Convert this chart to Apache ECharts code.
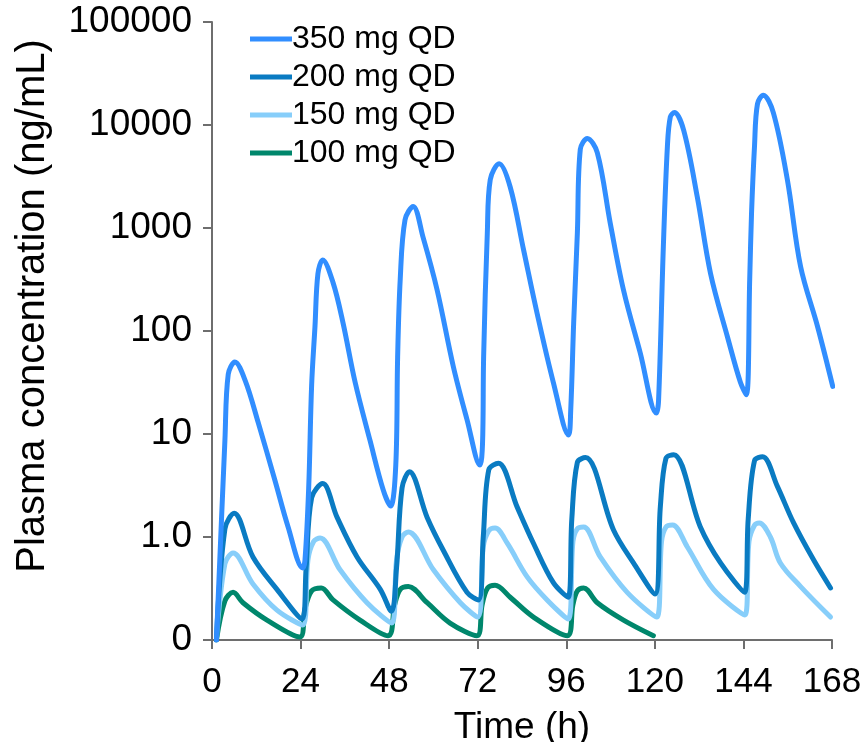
<!DOCTYPE html>
<html>
<head>
<meta charset="utf-8">
<script src="https://cdn.jsdelivr.net/npm/echarts@6/dist/echarts.min.js"></script>
<style>
html,body{margin:0;padding:0;background:#fff;}
#chart{width:864px;height:742px;}
</style>
</head>
<body>
<div id="chart"></div>
<script>
// Tick labels
var xTicks = [0, 24, 48, 72, 96, 120, 144, 168];
var yTickLabels = {0.1: '0', 1: '1.0', 10: '10', 100: '100', 1000: '1000', 10000: '10000', 100000: '100000'};

var seriesNames = ['350 mg QD', '200 mg QD', '150 mg QD', '100 mg QD'];

// 350 mg QD: time (h) and concentration (ng/mL)
var t350 = [1.2, 3.5, 4.4, 6.2, 9, 12.5, 17.1, 20.6, 24.6,
  25.2, 26.2, 27.0, 27.9, 28.7, 30.0, 32.8, 35.5, 38.8, 42.8, 46.4, 48.4,
  49.8, 50.3, 51.0, 52.3, 54.5, 57.2, 61, 65.4, 69.1, 72.6,
  73.3, 73.6, 74.6, 75.4, 77.8, 80.8, 84.4, 88.1, 92.5, 96.6,
  97.2, 98.0, 99.0, 99.8, 101.7, 104.4, 107.9, 111.5, 116, 120.4,
  121.0, 122.3, 123.4, 124.2, 125.3, 127.8, 131.5, 135.1, 139.7, 143.2, 144.8,
  145.7, 146.2, 147.0, 147.8, 149.4, 152.1, 155.9, 159.5, 164.1, 168.2];
var c350 = [0.1, 8.7, 38, 50, 33, 13, 3.5, 1.26, 0.5,
  0.6, 3, 30, 110, 360, 490, 295, 120, 31.6, 8.7, 2.86, 2.0,
  5, 56, 316, 1200, 1620, 810, 250, 45, 13.8, 5.0,
  8, 56, 890, 2950, 4200, 2500, 620, 148, 31.6, 9.8,
  17, 120, 890, 5800, 7400, 5400, 1120, 250, 62, 16,
  21, 660, 6200, 12000, 13200, 8900, 2000, 360, 87, 31.6, 24,
  316, 1400, 6200, 16000, 19500, 13200, 2950, 420, 110, 29];

// 200 mg QD
var t200 = [1.2, 3.5, 6.0, 11.1, 17.6, 24.4,
  25.5, 27.0, 30.0, 33.9, 39.3, 45.6, 48.6,
  50.0, 51.5, 53.5, 58.3, 62.7, 69.1, 72.2,
  73.5, 75.0, 77.6, 82.7, 87.1, 92.5, 96.5,
  97.5, 99.0, 101.2, 108.8, 114.2, 120.0,
  121.5, 123.0, 125.1, 132.3, 137.8, 144.3,
  145.3, 147.0, 149.2, 153.2, 157.6, 163.0, 167.6];
var c200 = [0.1, 1.2, 1.7, 0.64, 0.31, 0.16,
  0.5, 2.4, 3.3, 1.55, 0.64, 0.31, 0.19,
  0.5, 3.0, 4.3, 1.55, 0.74, 0.29, 0.245,
  1.0, 4.5, 5.2, 1.95, 0.87, 0.36, 0.26,
  1.5, 5.3, 5.9, 1.17, 0.56, 0.28,
  2.0, 5.8, 6.3, 1.26, 0.56, 0.29,
  1.5, 5.5, 6.0, 3.1, 1.37, 0.6, 0.32];

// 150 mg QD
var t150 = [1.2, 3.5, 5.7, 11.1, 17.6, 24.6,
  26.0, 27.5, 29.3, 34.7, 42.0, 48.7,
  50.0, 51.5, 53.2, 60.0, 67.3, 72.0,
  73.5, 75.0, 76.7, 80.0, 85.4, 90.8, 96.5,
  97.8, 99.0, 100.7, 105.2, 112.5, 120.5,
  121.8, 123.0, 124.8, 128.8, 135.9, 144.4,
  145.5, 147.0, 148.3, 151.3, 154.0, 159.5, 167.6];
var c150 = [0.1, 0.55, 0.7, 0.35, 0.195, 0.14,
  0.6, 0.9, 0.98, 0.48, 0.23, 0.146,
  0.6, 1.0, 1.12, 0.48, 0.23, 0.167,
  0.8, 1.15, 1.22, 0.87, 0.41, 0.245, 0.16,
  0.9, 1.2, 1.25, 0.64, 0.29, 0.167,
  0.9, 1.25, 1.31, 0.8, 0.31, 0.175,
  0.9, 1.3, 1.37, 1.0, 0.56, 0.33, 0.167];

// 100 mg QD
var t100 = [1.2, 3.5, 5.7, 8.4, 14.9, 23.8,
  25.2, 27.0, 29.6, 32.8, 40.1, 47.7,
  49.5, 51.0, 53.2, 58.3, 64.5, 71.8,
  73.2, 74.7, 76.7, 80.8, 87.1, 96.3,
  97.8, 99.0, 100.7, 104.4, 111.5, 119.6];
var c100 = [0.1, 0.24, 0.29, 0.23, 0.156, 0.107,
  0.2, 0.3, 0.32, 0.245, 0.156, 0.11,
  0.22, 0.31, 0.33, 0.23, 0.146, 0.11,
  0.22, 0.32, 0.34, 0.26, 0.167, 0.11,
  0.22, 0.3, 0.32, 0.23, 0.156, 0.11];

var colors = ['#318eff', '#0a7bc2', '#87cefa', '#00876c'];

function zip(t, c) { return t.map(function (v, i) { return [v, c[i]]; }); }
var allData = [zip(t350, c350), zip(t200, c200), zip(t150, c150), zip(t100, c100)];

var FONT = '"Liberation Sans", Arial, sans-serif';
var axisColor = '#6e6e6e';

var chart = echarts.init(document.getElementById('chart'), null, {renderer: 'canvas'});
chart.setOption({
  backgroundColor: '#ffffff',
  animation: false,
  color: colors,
  grid: {left: 212, right: 32, top: 22, bottom: 102, containLabel: false, outerBoundsMode: 'none'},
  legend: {
    orient: 'vertical',
    left: 250,
    top: 23,
    padding: 0,
    itemWidth: 42,
    itemHeight: 5,
    itemGap: 6,
    icon: 'rect',
    data: seriesNames,
    textStyle: {fontFamily: FONT, fontSize: 32, color: '#000', padding: [0, 0, 0, -5]}
  },
  graphic: [{
    type: 'text',
    x: 33,
    y: 306,
    rotation: Math.PI / 2,
    style: {
      text: 'Plasma concentration (ng/mL)',
      font: '40px "Liberation Sans", Arial, sans-serif',
      fill: '#000',
      textAlign: 'center',
      textVerticalAlign: 'middle'
    }
  }],
  xAxis: {
    type: 'value',
    min: 0, max: 168, interval: 24,
    name: 'Time (h)',
    nameLocation: 'middle',
    nameGap: 69,
    nameTextStyle: {fontFamily: FONT, fontSize: 37, color: '#000'},
    axisLine: {show: true, lineStyle: {color: axisColor, width: 2}},
    axisTick: {show: true, length: 9, lineStyle: {color: axisColor, width: 2}},
    axisLabel: {fontFamily: FONT, fontSize: 35, color: '#000', margin: 25,
      formatter: function (v) { return xTicks.indexOf(v) >= 0 ? String(v) : ''; }},
    splitLine: {show: false}
  },
  yAxis: {
    type: 'log',
    logBase: 10,
    min: 0.1, max: 100000,
    axisLine: {show: true, lineStyle: {color: axisColor, width: 2}},
    axisTick: {show: true, length: 9, lineStyle: {color: axisColor, width: 2}},
    axisLabel: {fontFamily: FONT, fontSize: 37, color: '#000', margin: 20,
      formatter: function (v) {
        if (v < 0.5) return '0';
        if (Math.abs(v - 1) < 0.01) return '1.0';
        return String(Math.round(v));
      }},
    splitLine: {show: false}
  },
  series: seriesNames.map(function (name, i) {
    return {
      name: name,
      type: 'line',
      data: allData[i],
      smooth: 0.35,
      symbol: 'none',
      z: 10 - i,
      lineStyle: {width: 5, color: colors[i], cap: 'round', join: 'round'}
    };
  })
});
</script>
</body>
</html>
